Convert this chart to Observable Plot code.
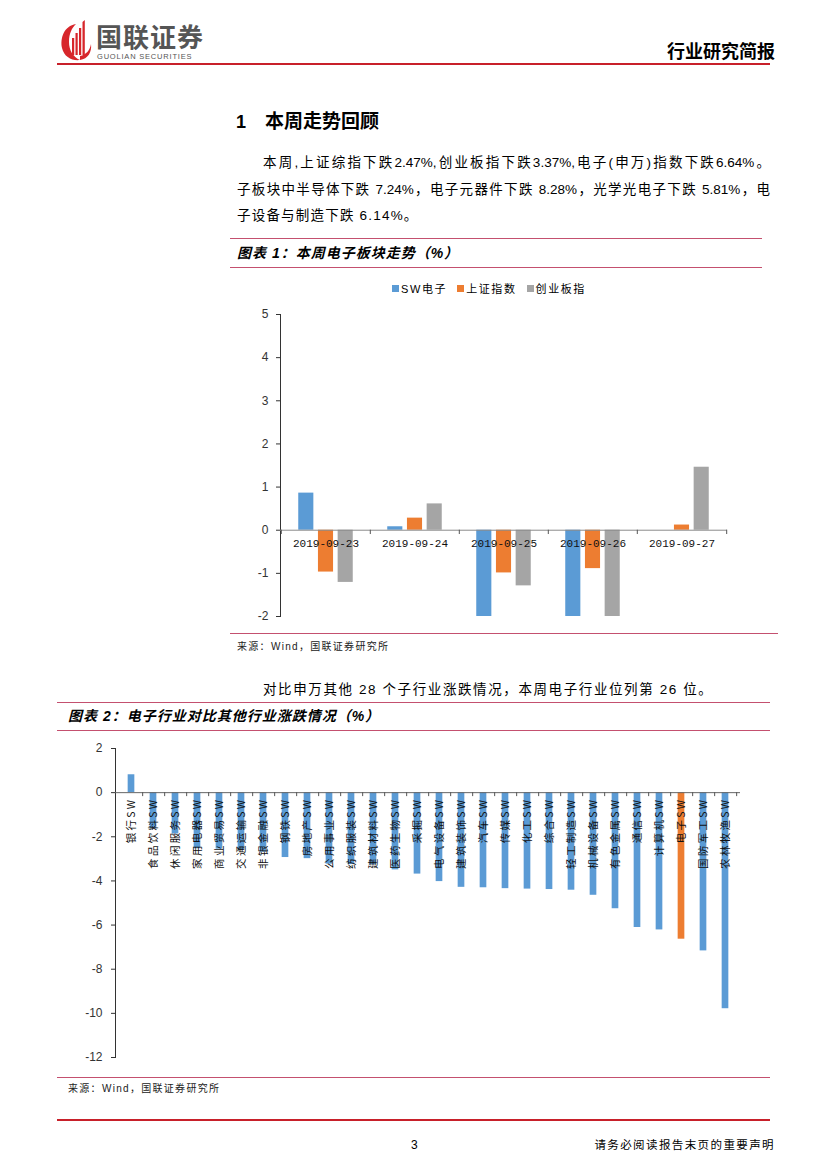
<!DOCTYPE html>
<html><head><meta charset="utf-8">
<script src="https://cdn.jsdelivr.net/npm/d3@7"></script>
<script src="https://cdn.jsdelivr.net/npm/@observablehq/plot@0.6"></script>
<style>
body{margin:0;background:#fff;}
#page{position:relative;width:827px;height:1169px;overflow:hidden;font-family:"Liberation Sans","Noto Sans CJK SC",sans-serif;color:#000;}
.abs{position:absolute;white-space:nowrap;}
.hr{position:absolute;height:0;border-top:1px solid #c4506f;}
.body{font-size:13.5px;line-height:20px;}
.just{text-align:justify;text-align-last:justify;}
.ttl{font-size:14px;font-weight:bold;font-style:italic;line-height:18px;letter-spacing:1px;}
.src{font-size:10px;line-height:14px;color:#222;letter-spacing:1.3px;}
#legend1 span.sq{display:inline-block;width:7px;height:7px;margin-right:2px;vertical-align:1px;}
#legend1 span.it{margin-right:10px;letter-spacing:1.6px;}
#chart2 g[aria-label="text"] text{letter-spacing:2.3px;}
</style></head>
<body><div id="page">
<!-- header -->
<svg class="abs" style="left:60px;top:20px" width="32" height="42" viewBox="0 0 32 42">
  <path d="M16 4 C4 6 0 18 2 28 C4 37 12 41 20 40 C13 37 9 30 9 22 C9 13 12 8 16 4 Z" fill="#d7262b"/>
  <path d="M20 40 C28 39 32 32 31 24 C30 30 26 35 20 36 Z" fill="#d7262b"/>
  <rect x="12" y="18" width="2.2" height="17" fill="#d7262b"/>
  <rect x="15.5" y="13" width="2.2" height="22" fill="#d7262b"/>
  <rect x="19" y="8" width="2.2" height="27" fill="#d7262b"/>
  <path d="M22.5 2 L24.8 0 L24.8 35 L22.5 35 Z" fill="#d7262b"/>
</svg>
<div class="abs" style="left:96px;top:24px;font-size:26px;font-weight:bold;color:#555;letter-spacing:1px;line-height:28px;">国联证券</div>
<div class="abs" style="left:97px;top:52px;font-size:7.5px;color:#555;line-height:9px;letter-spacing:0.8px;">GUOLIAN SECURITIES</div>
<div class="abs" style="left:667px;top:40px;font-size:18px;font-weight:bold;line-height:24px;">行业研究简报</div>
<div class="abs" style="left:57px;top:63px;width:713px;height:0;border-top:2px solid #c8202a;"></div>

<div class="abs" style="left:236px;top:110px;font-size:18px;font-weight:bold;line-height:24px;">1</div>
<div class="abs" style="left:265px;top:110px;font-size:19px;font-weight:bold;line-height:24px;">本周走势回顾</div>

<div class="abs body just" style="left:263px;top:153px;width:507px;">本周,上证综指下跌2.47%,创业板指下跌3.37%,电子(申万)指数下跌6.64%。</div>
<div class="abs body just" style="left:237px;top:180px;width:533px;">子板块中半导体下跌 7.24%，电子元器件下跌 8.28%，光学光电子下跌 5.81%，电</div>
<div class="abs body" style="left:237px;top:206px;letter-spacing:1.2px;">子设备与制造下跌 6.14%。</div>

<div class="hr" style="left:230px;top:238px;width:532px;"></div>
<div class="abs ttl" style="left:237px;top:244px;">图表 1：本周电子板块走势（%）</div>
<div class="hr" style="left:230px;top:267px;width:532px;"></div>

<div id="legend1" class="abs" style="left:392px;top:282px;font-size:11px;line-height:14px;"></div>
<div id="chart1" class="abs" style="left:230px;top:300px;"></div>

<div class="hr" style="left:230px;top:633px;width:548px;"></div>
<div class="abs src" style="left:237px;top:640px;">来源：Wind，国联证券研究所</div>

<div class="abs body" style="left:263px;top:680px;letter-spacing:1.6px;">对比申万其他 28 个子行业涨跌情况，本周电子行业位列第 26 位。</div>
<div class="hr" style="left:57px;top:702px;width:713px;"></div>
<div class="abs ttl" style="left:68px;top:707px;">图表 2：电子行业对比其他行业涨跌情况（%）</div>
<div class="hr" style="left:57px;top:730px;width:713px;"></div>

<div id="chart2" class="abs" style="left:55px;top:735px;"></div>

<div class="hr" style="left:57px;top:1077px;width:713px;"></div>
<div class="abs src" style="left:68px;top:1082px;">来源：Wind，国联证券研究所</div>
<div class="abs" style="left:57px;top:1119px;width:713px;height:0;border-top:2px solid #c8202a;"></div>
<div class="abs" style="left:411px;top:1137px;font-size:12px;line-height:16px;">3</div>
<div class="abs" style="left:575px;top:1138px;width:200px;text-align:right;font-size:11.5px;line-height:15px;letter-spacing:1.4px;">请务必阅读报告末页的重要声明</div>
</div>
<script>
// ---------- Chart 1 data ----------
const dates1 = ["2019-09-23","2019-09-24","2019-09-25","2019-09-26","2019-09-27"];
const seriesNames = ["SW电子","上证指数","创业板指"];
const swDianzi   = [0.86, 0.08, -2.00, -2.00, 0.00];
const shangzheng = [-0.97, 0.28, -0.99, -0.89, 0.12];
const chuangye   = [-1.21, 0.61, -1.29, -2.00, 1.46];
const colors1 = ["#5B9BD5","#ED7D31","#A5A5A5"];
const yTicks1 = [-2,-1,0,1,2,3,4,5];

// ---------- Chart 2 data ----------
const industries = ["银行SW","食品饮料SW","休闲服务SW","家用电器SW","商业贸易SW","交通运输SW","非银金融SW","钢铁SW","房地产SW","公用事业SW","纺织服装SW","建筑材料SW","医药生物SW","采掘SW","电气设备SW","建筑装饰SW","汽车SW","传媒SW","化工SW","综合SW","轻工制造SW","机械设备SW","有色金属SW","通信SW","计算机SW","电子SW","国防军工SW","农林牧渔SW"];
const changes = [0.81,-1.64,-1.87,-2.54,-2.56,-2.62,-2.70,-2.94,-2.99,-3.24,-3.26,-3.27,-3.50,-3.69,-4.03,-4.29,-4.31,-4.35,-4.37,-4.39,-4.42,-4.65,-5.26,-6.11,-6.22,-6.64,-7.17,-9.79];
const highlight = "电子SW";
const yTicks2 = [-12,-10,-8,-6,-4,-2,0,2];

const fmt = d => String(d);

// legend
const seriesValues = [swDianzi, shangzheng, chuangye];
document.getElementById("legend1").innerHTML = seriesNames.map((s,k)=>
  `<span class="it"><span class="sq" style="background:${colors1[k]}"></span>${s}</span>`).join("");

// ---------- Chart 1 ----------
const rows1 = [];
dates1.forEach((d,i)=>seriesNames.forEach((s,k)=>rows1.push({date:d, series:s, value:seriesValues[k][i]})));
const W1=550, H1=330, mL1=50, mR1=53, mT1=14, mB1=14;
const bw1 = (W1-mL1-mR1)/dates1.length;
const barW1 = 15.5, step1 = 19.7;
const chart1 = Plot.plot({
  width:W1, height:H1, marginLeft:mL1, marginRight:mR1, marginTop:mT1, marginBottom:mB1,
  style:{fontFamily:"Liberation Sans", fontSize:"12px", color:"#333", background:"transparent", overflow:"visible"},
  x:{domain:dates1, padding:0, axis:null},
  y:{domain:[-2,5], ticks:yTicks1, tickFormat:fmt, tickSize:4, tickPadding:8, label:null, line:true},
  marks:[
    ...seriesNames.map((s,k)=>Plot.barY(rows1.filter(r=>r.series===s), {
      x:"date", y:"value", fill:colors1[k], clip:true,
      insetLeft:(bw1-barW1)/2, insetRight:(bw1-barW1)/2, dx:(k-1)*step1})),
    Plot.ruleY([0], {stroke:"#8c8c8c"}),
    Plot.ruleX(dates1, {x:d=>d, y1:0, y2:-0.1, dx:-bw1/2, stroke:"#555"}),
    Plot.ruleX(dates1.slice(-1), {x:d=>d, y1:0, y2:-0.1, dx:bw1/2, stroke:"#555"}),
    Plot.text(dates1, {x:d=>d, y:0, dy:13, text:d=>d, fontSize:11, fontFamily:"Liberation Mono", fill:"#111"})
  ]
});
document.getElementById("chart1").appendChild(chart1);

// ---------- Chart 2 ----------
const rows2 = industries.map((n,i)=>({name:n, value:changes[i]}));
const W2=700, H2=335, mL2=60, mR2=15, mT2=13, mB2=13;
const bw2 = (W2-mL2-mR2)/industries.length;
const barW2 = 7;
const chart2 = Plot.plot({
  width:W2, height:H2, marginLeft:mL2, marginRight:mR2, marginTop:mT2, marginBottom:mB2,
  style:{fontFamily:"Liberation Sans", fontSize:"12px", color:"#333", background:"transparent", overflow:"visible"},
  x:{domain:industries, padding:0, axis:null},
  y:{domain:[-12,2], ticks:yTicks2, tickFormat:fmt, tickSize:4, tickPadding:9, label:null, line:true},
  marks:[
    Plot.barY(rows2, {x:"name", y:"value", fill:d=>d.name===highlight?"#ED7D31":"#5B9BD5",
      insetLeft:(bw2-barW2)/2, insetRight:(bw2-barW2)/2}),
    Plot.ruleY([0], {stroke:"#666"}),
    Plot.ruleX(industries, {x:d=>d, y1:0, y2:-0.18, dx:bw2/2, stroke:"#555"}),
    Plot.text(rows2, {x:"name", y:0, dy:5, text:"name", rotate:-90, textAnchor:"end",
      fontSize:10.5, fontFamily:"Noto Sans CJK SC", fill:"#111"})
  ]
});
document.getElementById("chart2").appendChild(chart2);
</script>
</body></html>
